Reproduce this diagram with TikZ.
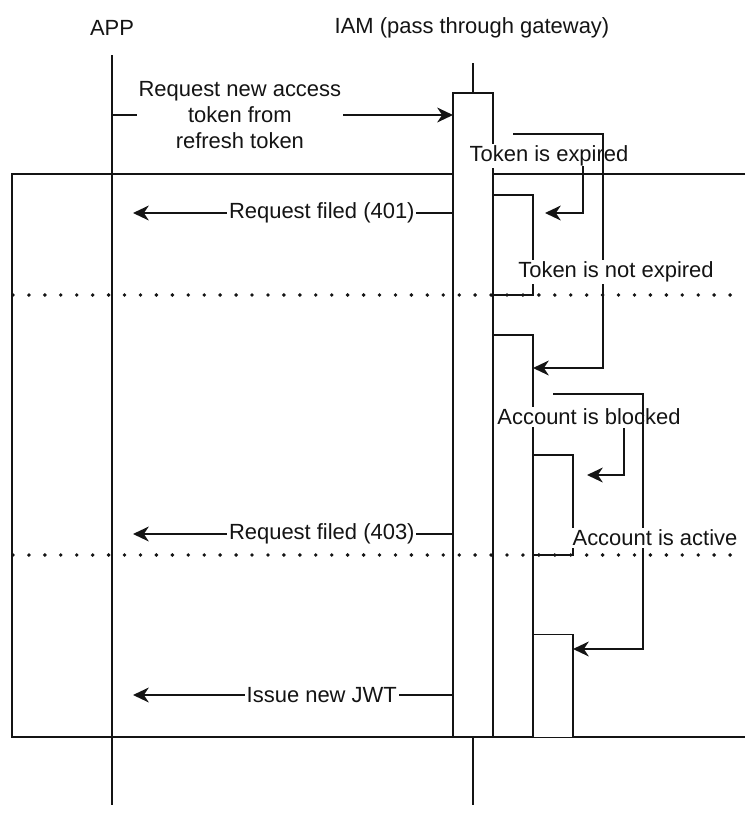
\documentclass[tikz,border=0pt]{standalone}
\usepackage{fontspec}
\setmainfont{Liberation Sans}
\usepackage{tikz}
\usetikzlibrary{arrows.meta, positioning, calc}
\definecolor{mydark}{RGB}{20,20,20}
\tikzset{
  lifeline/.style={line width=0.9pt, color=mydark},
  frameline/.style={line width=0.9pt, color=mydark},
  actbox/.style={rectangle, draw=mydark, fill=white, minimum width=0.8cm,
    inner sep=0pt, outer sep=0pt, line width=0.9pt},
  msg/.style={-{Stealth[length=9pt, width=8.5pt, inset=2.8pt]}, line width=0.9pt, color=mydark},
  msglabel/.style={fill=white, inner sep=1pt, align=center, text=mydark},
  divider/.style={line width=2.2pt, dash pattern=on 0pt off 9.07pt, line cap=round, color=mydark}
}

\begin{document}
\begin{tikzpicture}[x=0.02cm, y=-0.02cm, every node/.style={font=\fontsize{12.5}{15}\selectfont}]
  \useasboundingbox (0,0) rectangle (745,833);

  % headers and lifelines
  \node[text=mydark] (app) at (112,28) {APP};
  \node[text=mydark] (iam) at (472,28) {IAM (pass through gateway)};
  \coordinate (apptop) at (112,55);
  \coordinate (appbot) at (112,805);
  \coordinate (iamtop) at (473,63);
  \coordinate (iambot) at (473,805);
  \draw[lifeline] (apptop) -- (appbot);
  \draw[lifeline] (iamtop) -- (iambot);

  % alt frame
  \draw[frameline] (745,174) -- (12,174) -- (12,737) -- (745,737);

  % activations
  \node[actbox, minimum height=12.88cm] (act1) at (473,415) {};
  \node[actbox, minimum height=2cm] (act2) at (513,245) {};
  \node[actbox, minimum height=8.04cm] (act3) at (513,536) {};
  \node[actbox, minimum height=2cm] (act4) at (553,505) {};
  \node[actbox, minimum height=2.06cm] (act5) at (553,686) {};

  % messages between APP and IAM
  \coordinate (req) at (112,115);
  \coordinate (r401) at (133,213);
  \coordinate (r403) at (133,534);
  \coordinate (rjwt) at (133,695);
  \draw[msg] (req) -- node[msglabel, pos=0.375] {Request new access\\token from\\refresh token} (act1.west |- req);
  \draw[msg] (act1.west |- r401) -- node[msglabel, pos=0.41] {Request filed (401)} (r401);
  \draw[msg] (act1.west |- r403) -- node[msglabel, pos=0.41] {Request filed (403)} (r403);
  \draw[msg] (act1.west |- rjwt) -- node[msglabel, pos=0.41] {Issue new JWT} (rjwt);

  % checks inside IAM
  \node[msglabel] (expired) at (549,156) {Token is expired};
  \node[msglabel] (blocked) at (589,417) {Account is blocked};

  \coordinate (sA) at (513,134);
  \coordinate (turnA) at (603,368);
  \coordinate (sB) at (583,166);
  \coordinate (eB) at (545,213);
  \coordinate (sD) at (553,394);
  \coordinate (turnD) at (643,649);
  \coordinate (sE) at (624,428);
  \coordinate (eE) at (587,475);
  \draw[msg] (sA) -| (turnA) -- (act3.east |- turnA);
  \draw[msg] (sB) |- (eB);
  \draw[msg] (sD) -| (turnD) -- (act5.east |- turnD);
  \draw[msg] (sE) |- (eE);

  \node[msglabel] (notexpired) at (616,272) {Token is not expired};
  \node[msglabel] (active) at (655,538) {Account is active};

  % alt separators
  \draw[divider] (13,295) -- (745,295);
  \draw[divider] (13,555) -- (745,555);
\end{tikzpicture}
\end{document}
